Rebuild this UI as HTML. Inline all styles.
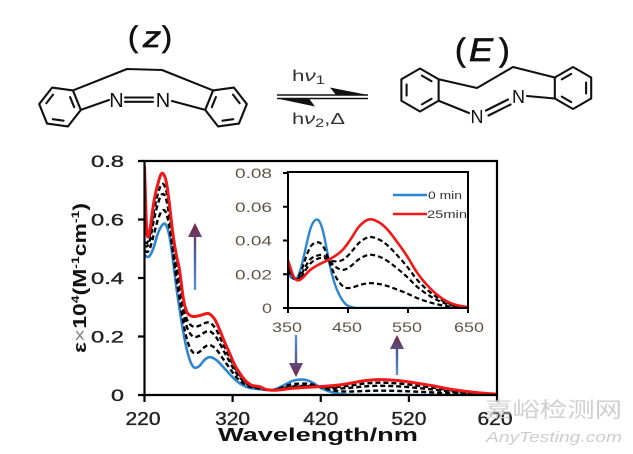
<!DOCTYPE html>
<html><head><meta charset="utf-8"><style>
html,body{margin:0;padding:0;background:#fff;}
svg{display:block;font-family:"Liberation Sans",Arial,sans-serif;}
</style></head><body>
<svg id="s" width="633" height="454" viewBox="0 0 633 454" xmlns="http://www.w3.org/2000/svg">
<defs>
<clipPath id="cm"><rect x="145" y="160" width="352" height="235"/></clipPath>
<clipPath id="ci"><rect x="288" y="172" width="180" height="136"/></clipPath>
<linearGradient id="gu" x1="0" y1="1" x2="0" y2="0"><stop offset="0" stop-color="#5b93cc"/><stop offset="0.55" stop-color="#4a5e95"/><stop offset="1" stop-color="#7d2443"/></linearGradient>
<linearGradient id="gd" x1="0" y1="0" x2="0" y2="1"><stop offset="0" stop-color="#5b93cc"/><stop offset="0.55" stop-color="#4a5e95"/><stop offset="1" stop-color="#7d2443"/></linearGradient>
</defs>
<rect width="633" height="454" fill="#fff"/>

<!-- ===== Chemical structures ===== -->
<g stroke="#111" stroke-width="2.1" fill="none" stroke-linecap="round" stroke-linejoin="round" id="chem"></g>
<g fill="#111" stroke="#111" stroke-width="0.7">
  <text x="128" y="47" font-size="30">(</text>
  <text x="143" y="47" font-size="30" font-style="italic" textLength="18" lengthAdjust="spacingAndGlyphs">z</text>
  <text x="162" y="47" font-size="30">)</text>
  <text x="455" y="61" font-size="32">(</text>
  <text x="469" y="61" font-size="32" font-style="italic" textLength="24" lengthAdjust="spacingAndGlyphs">E</text>
  <text x="499" y="61" font-size="32">)</text>
</g>
<g fill="#111">
  <text x="116.5" y="107" font-size="20" text-anchor="middle">N</text>
  <text x="163" y="107" font-size="20" text-anchor="middle">N</text>
  <text x="477" y="123" font-size="18" text-anchor="middle">N</text>
  <text x="518.5" y="103" font-size="18" text-anchor="middle">N</text>
</g>
<g fill="#333" font-size="16">
  <text x="292" y="81" textLength="33" lengthAdjust="spacingAndGlyphs">h<tspan font-style="italic">ν</tspan><tspan font-size="12" dy="3">1</tspan></text>
  <text x="292" y="124" textLength="53" lengthAdjust="spacingAndGlyphs">h<tspan font-style="italic">ν</tspan><tspan font-size="12" dy="3">2</tspan><tspan dy="-3">,Δ</tspan></text>
</g>
<g stroke="#111" stroke-width="1.5">
  <line x1="277" y1="95" x2="368" y2="95"/>
  <line x1="277" y1="98.5" x2="368" y2="98.5"/>
</g>
<polygon points="368,95 330,87.5 336,95" fill="#111"/>
<polygon points="277,98.5 315,106.5 309,98.5" fill="#111"/>

<!-- ===== Main plot ===== -->
<g id="mainCurves" clip-path="url(#cm)" fill="none" stroke-linejoin="round"></g>
<g stroke="#000" stroke-width="2.2" fill="none">
  <path d="M144.5,161 L497,161 L497,395 L144.5,395 Z"/>
  <path d="M138,161H144.5M138,219.5H144.5M138,278H144.5M138,336.5H144.5M138,395H144.5"/>
  <path d="M144.5,395V402M232.6,395V402M320.75,395V402M408.9,395V402M497,395V402"/>
</g>
<g fill="#222" stroke="#222" stroke-width="0.35" font-size="17" text-anchor="end">
  <text x="124" y="167" textLength="33" lengthAdjust="spacingAndGlyphs">0.8</text>
  <text x="124" y="225.5" textLength="33" lengthAdjust="spacingAndGlyphs">0.6</text>
  <text x="124" y="284" textLength="33" lengthAdjust="spacingAndGlyphs">0.4</text>
  <text x="124" y="342.5" textLength="33" lengthAdjust="spacingAndGlyphs">0.2</text>
  <text x="124" y="401" textLength="13" lengthAdjust="spacingAndGlyphs">0</text>
</g>
<g fill="#222" stroke="#222" stroke-width="0.35" font-size="18" text-anchor="middle">
  <text x="143" y="425" textLength="35" lengthAdjust="spacingAndGlyphs">220</text>
  <text x="232.6" y="425" textLength="35" lengthAdjust="spacingAndGlyphs">320</text>
  <text x="320.75" y="425" textLength="35" lengthAdjust="spacingAndGlyphs">420</text>
  <text x="408.9" y="425" textLength="35" lengthAdjust="spacingAndGlyphs">520</text>
  <text x="495" y="425" textLength="35" lengthAdjust="spacingAndGlyphs">620</text>
</g>
<text x="218" y="441" font-size="18.5" font-weight="bold" fill="#111" textLength="200" lengthAdjust="spacingAndGlyphs">Wavelength/nm</text>
<text transform="translate(86,353) rotate(-90)" font-size="18" font-weight="bold" fill="#111" textLength="150" lengthAdjust="spacingAndGlyphs">ε<tspan font-weight="normal" fill="#888">×</tspan>10<tspan font-size="11" dy="-7">4</tspan><tspan dy="7">(M</tspan><tspan font-size="11" dy="-7">-1</tspan><tspan dy="7">cm</tspan><tspan font-size="11" dy="-7">-1</tspan><tspan dy="7">)</tspan></text>

<!-- arrows -->
<polygon points="193.8,290 193.8,237 188,237 195,223 202,237 196.2,237 196.2,290" fill="url(#gu)"/>
<polygon points="294.8,335 294.8,363 289,363 296,377 303,363 297.2,363 297.2,335" fill="url(#gd)"/>
<polygon points="395.8,375 395.8,349 390,349 397,335 404,349 398.2,349 398.2,375" fill="url(#gu)"/>

<!-- ===== Inset ===== -->
<rect x="288" y="172" width="180" height="136" fill="#fff"/>
<g id="insetCurves" clip-path="url(#ci)" fill="none" stroke-linejoin="round"></g>
<g stroke="#000" stroke-width="2" fill="none">
  <path d="M288,172 L468,172 L468,308 L288,308 Z"/>
  <path d="M283,173H288M283,206.75H288M283,240.5H288M283,274.25H288M283,308H288"/>
  <path d="M288,308V313M348,308V313M408,308V313M468,308V313"/>
</g>
<g fill="#5e5546" font-size="13.5" text-anchor="end">
  <text x="272" y="178" textLength="37" lengthAdjust="spacingAndGlyphs">0.08</text>
  <text x="272" y="211.75" textLength="37" lengthAdjust="spacingAndGlyphs">0.06</text>
  <text x="272" y="245.5" textLength="37" lengthAdjust="spacingAndGlyphs">0.04</text>
  <text x="272" y="279.25" textLength="37" lengthAdjust="spacingAndGlyphs">0.02</text>
  <text x="272" y="313" textLength="10" lengthAdjust="spacingAndGlyphs">0</text>
</g>
<g fill="#5e5546" font-size="13.5" text-anchor="middle">
  <text x="287" y="332" textLength="30" lengthAdjust="spacingAndGlyphs">350</text>
  <text x="347" y="332" textLength="30" lengthAdjust="spacingAndGlyphs">450</text>
  <text x="407" y="332" textLength="30" lengthAdjust="spacingAndGlyphs">550</text>
  <text x="469" y="332" textLength="30" lengthAdjust="spacingAndGlyphs">650</text>
</g>
<line x1="393" y1="195" x2="427" y2="195" stroke="#2e86d0" stroke-width="2.4"/>
<line x1="393" y1="214" x2="427" y2="214" stroke="#f01818" stroke-width="2.4"/>
<text x="428" y="199" font-size="11" fill="#333" textLength="34" lengthAdjust="spacingAndGlyphs">0 min</text>
<text x="427" y="218" font-size="11" fill="#333" textLength="40" lengthAdjust="spacingAndGlyphs">25min</text>

<!-- watermark -->
<text x="485" y="417" font-size="21" fill="#cfcfcf" font-family="'Liberation Sans','Noto Sans CJK SC',sans-serif" textLength="137" lengthAdjust="spacingAndGlyphs">嘉峪检测网</text>
<text x="486" y="442" font-size="15" font-style="italic" fill="#cdcdcd" textLength="136" lengthAdjust="spacingAndGlyphs">AnyTesting.com</text>
</svg>
<script>
(function(){
const NS="http://www.w3.org/2000/svg";
function mk(tag,attrs,parent){const e=document.createElementNS(NS,tag);for(const k in attrs)e.setAttribute(k,attrs[k]);parent.appendChild(e);return e;}
function pchip(pts){
  const xs=pts.map(p=>p[0]),ys=pts.map(p=>p[1]),n=xs.length,h=[],d=[],m=new Array(n);
  for(let i=0;i<n-1;i++){h[i]=xs[i+1]-xs[i];d[i]=(ys[i+1]-ys[i])/h[i];}
  m[0]=d[0];m[n-1]=d[n-2];
  for(let i=1;i<n-1;i++){
    if(d[i-1]*d[i]<=0)m[i]=0;
    else{const w1=2*h[i]+h[i-1],w2=h[i]+2*h[i-1];m[i]=(w1+w2)/(w1/d[i-1]+w2/d[i]);}
  }
  return function(x){
    if(x<=xs[0])return ys[0]; if(x>=xs[n-1])return ys[n-1];
    let i=0;while(i<n-2&&x>xs[i+1])i++;
    const t=(x-xs[i])/h[i],t2=t*t,t3=t2*t;
    return (2*t3-3*t2+1)*ys[i]+(t3-2*t2+t)*h[i]*m[i]+(-2*t3+3*t2)*ys[i+1]+(t3-t2)*h[i]*m[i+1];
  };
}
function smooth(fn,sig){
  const ks=[],ws=[];let tot=0;
  for(let o=-3*sig;o<=3*sig+1e-9;o+=sig/4){const w=Math.exp(-0.5*o*o/(sig*sig));ks.push(o);ws.push(w);tot+=w;}
  return function(x){let s=0;for(let i=0;i<ks.length;i++)s+=ws[i]*fn(x+ks[i]);return s/tot;};
}
const blueR=pchip([[220,.48],[224,.47],[230,.50],[236,.56],[243,.588],[248,.55],[252,.47],[256,.37],[260,.29],[264,.215],[268,.155],[273,.107],[277,.092],[282,.098],[288,.12],[294,.13],[300,.123],[308,.10],[315,.077],[322,.055],[330,.036],[340,.024],[350,.02],[357,.0175],[364,.0168],[372,.024],[381,.038],[390,.05],[399,.053],[406,.049],[413,.038],[420,.0245],[428,.014],[437,.0067],[445,.0025],[453,.0008],[465,0],[650,0]]);
const redR=pchip([[220,.85],[221.5,.6],[223,.53],[226,.56],[230,.65],[235,.72],[240,.76],[244,.74],[248,.66],[252,.555],[256,.48],[260,.425],[263,.35],[266,.30],[270,.275],[276,.268],[283,.272],[292,.279],[299,.262],[305,.225],[311,.18],[317,.14],[322,.105],[328,.075],[335,.048],[343,.032],[350,.029],[358,.019],[366,.016],[375,.018],[385,.022],[400,.0255],[420,.029],[440,.034],[455,.041],[470,.049],[487,.0527],[503,.0505],[517,.046],[530,.04],[548,.031],[565,.021],[582,.0135],[598,.008],[612,.0045],[630,.0018],[650,.0005]]);
const fA=[.5,.79,.86],fB=[.28,.6,.8];
function dashedRaw(k){return function(l){
  const w=Math.exp(-Math.pow((l-400)/22,2));
  const f=fB[k]+w*(fA[k]-fB[k]);
  const r=l<224?0.53:redR(l);
  return (1-f)*blueR(l)+f*r;};}
const mx=l=>144.5+(l-220)*0.88125,my=v=>395-v*292.5;
const ix=l=>288+(l-350)*0.6,iy=v=>308-v*1687.5;
function path(fn,a,b,step,X,Y){let s="";for(let l=a;l<=b+1e-9;l+=step){s+=(s?"L":"M")+X(l).toFixed(2)+","+Y(fn(l)).toFixed(2);}return s;}
const gm=document.getElementById("mainCurves"),gi=document.getElementById("insetCurves");
// main
const sm=1.3, si=3;
mk("path",{d:path(smooth(blueR,sm),220,620,0.5,mx,my),stroke:"#2e86d0","stroke-width":2.6},gm);
for(let k=0;k<3;k++)mk("path",{d:path(smooth(dashedRaw(k),sm),220,620,0.5,mx,my),stroke:"#000","stroke-width":2.4,"stroke-dasharray":"5 3"},gm);
mk("path",{d:path(smooth(redR,1.0),220,620,0.25,mx,my),stroke:"#f01818","stroke-width":3},gm);
// inset
mk("path",{d:path(smooth(blueR,si),350,650,0.5,ix,iy),stroke:"#2e86d0","stroke-width":2.4},gi);
for(let k=0;k<3;k++)mk("path",{d:path(smooth(dashedRaw(k),si),350,650,0.5,ix,iy),stroke:"#000","stroke-width":2.2,"stroke-dasharray":"5 3"},gi);
mk("path",{d:path(smooth(redR,si),350,650,0.5,ix,iy),stroke:"#f01818","stroke-width":2.6},gi);

// chemistry
const gc=document.getElementById("chem");
function hexv(cx,cy,r,a0){const v=[];for(let i=0;i<6;i++){const a=(a0+60*i)*Math.PI/180;v.push([cx+r*Math.cos(a),cy+r*Math.sin(a)]);}return v;}
function ring(v,cx,cy,inner){
  mk("polygon",{points:v.map(p=>p[0].toFixed(2)+","+p[1].toFixed(2)).join(" ")},gc);
  inner.forEach(i=>{const p=v[i],q=v[(i+1)%6];
    const s=0.72;const P=[cx+s*(p[0]-cx),cy+s*(p[1]-cy)],Q=[cx+s*(q[0]-cx),cy+s*(q[1]-cy)];
    const t=0.14;const A=[P[0]+t*(Q[0]-P[0]),P[1]+t*(Q[1]-P[1])],B=[Q[0]+t*(P[0]-Q[0]),Q[1]+t*(P[1]-Q[1])];
    mk("line",{x1:A[0],y1:A[1],x2:B[0],y2:B[1]},gc);});
}
function pl(pts){mk("polyline",{points:pts.map(p=>p.join(",")).join(" ")},gc);}
const zl=hexv(60,107,21,-112);ring(zl,60,107,[1,3,5]);
const zr=zl.map(p=>[286-p[0],p[1]]);ring(zr,226,107,[1,3,5]);
pl([[zl[1][0].toFixed(2),zl[1][1].toFixed(2)],[127,69],[162,70],[zr[1][0].toFixed(2),zr[1][1].toFixed(2)]]);
pl([[zl[2][0].toFixed(2),zl[2][1].toFixed(2)],[109,100]]);
pl([[172,101],[zr[2][0].toFixed(2),zr[2][1].toFixed(2)]]);
pl([[125,97.5],[153,97.5]]);pl([[125,101.8],[153,101.8]]);
const el=hexv(420,90,21.5,-90);ring(el,420,90,[0,2,4]);
const er=hexv(573,88,21,-90);ring(er,573,88,[1,3,5]);
pl([[el[1][0].toFixed(2),el[1][1].toFixed(2)],[477,88],[513,67],[er[5][0].toFixed(2),er[5][1].toFixed(2)]]);
pl([[el[2][0].toFixed(2),el[2][1].toFixed(2)],[469,113]]);
pl([[486,110.5],[508,99.5]]);pl([[488.5,115.5],[510.5,104.5]]);
pl([[527,96],[er[4][0].toFixed(2),er[4][1].toFixed(2)]]);
})();
</script>
</body></html>
